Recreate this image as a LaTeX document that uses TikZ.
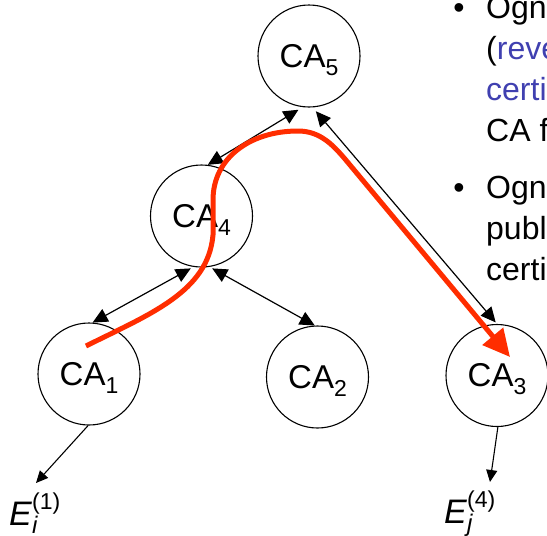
\documentclass[tikz,border=0pt]{standalone}
\usepackage{fontspec}
\setmainfont{Liberation Sans}
\usetikzlibrary{arrows.meta}

\definecolor{pathred}{RGB}{255,45,0}
\definecolor{linkblue}{RGB}{64,64,176}

% CA name with a lowered index that does not change the box depth
\newcommand{\calabel}[1]{CA\smash{\raisebox{-8pt}{\fontsize{23}{23}\selectfont #1}}}
% end entity E with an italic subscript and a bracketed superscript
\newcommand{\entity}[2]{\textit{E}\rlap{\raisebox{-8pt}{\fontsize{24}{24}\selectfont\itshape #1}}\raisebox{16pt}{\fontsize{23}{23}\selectfont (#2)}}

\begin{document}
\begin{tikzpicture}[x=1pt,y=-1pt,
  ca/.style={circle,draw,line width=1.1pt,minimum size=102pt,inner sep=0pt,
    font=\fontsize{33}{33}\selectfont},
  link/.style={line width=1.2pt,
    {Triangle[length=15pt,width=14pt]}-{Triangle[length=15pt,width=14pt]}},
  leaf/.style={line width=1.1pt,-{Triangle[length=12pt,width=11pt]}},
  route/.style={draw=pathred,line width=5pt,line cap=butt,
    -{Triangle[length=27pt,width=26pt]}},
  bodytext/.style={anchor=base west,inner sep=0pt,font=\fontsize{32}{32}\selectfont},
  bulletmark/.style={anchor=base,inner sep=0pt,font=\fontsize{32}{32}\selectfont},
  entitytext/.style={anchor=base west,inner sep=0pt,font=\fontsize{34}{34}\selectfont}]

\useasboundingbox (0,0) rectangle (547,536);

% certification authorities
\node[ca] (ca5) at (309,56) {\calabel{5}};
\node[ca] (ca4) at (201.5,216) {\calabel{4}};
\node[ca] (ca1) at (89,374) {\calabel{1}};
\node[ca] (ca2) at (317.5,377) {\calabel{2}};
\node[ca] (ca3) at (497,375.5) {\calabel{3}};

% mutual certification links
\draw[link,shorten <=5pt] (ca5.-97) -- (ca4.83);
\draw[link,shorten <=5pt,shorten >=2pt] (ca5.-86) -- (ca3.90);
\draw[link,shorten <=3pt] (ca4.-99) -- (ca1.86);
\draw[link,shorten <=3pt] (ca4.-81) -- (ca2.93);

% end entities
\node[entitytext] (ei) at (9,525) {\entity{i}{1}};
\node[entitytext] (ej) at (444,523) {\entity{j}{4}};
\coordinate (eitip) at (36,483);
\coordinate (ejtip) at (490,482);
\draw[leaf] (ca1.-91) -- (eitip);
\draw[leaf] (ca3.-89) -- (ejtip);

% certification path from CA1 up through CA4, CA5 and down to CA3
\coordinate (routestart) at (86,346);
\coordinate (routeend) at (510,357);
\draw[route] (routestart) .. controls (150,314) and (208,292) .. (213,235)
  -- (213,200) .. controls (213,158) and (250,131) .. (298,131)
  .. controls (320,131) and (333,145) .. (345,159) -- (routeend);

% bullet text
\node[bulletmark] (b1) at (459,18) {•};
\node[bodytext] (t1) at (486,18) {Ogn};
\node[bodytext] (t2) at (486,59) {(\textcolor{linkblue}{reve}};
\node[bodytext,text=linkblue] (t3) at (486,100) {certi};
\node[bodytext] (t4) at (486,141) {CA f};
\node[bulletmark] (b2) at (459,198) {•};
\node[bodytext] (t5) at (486,198) {Ogn};
\node[bodytext] (t6) at (486,239) {publ};
\node[bodytext] (t7) at (486,280) {certi};
\end{tikzpicture}
\end{document}
